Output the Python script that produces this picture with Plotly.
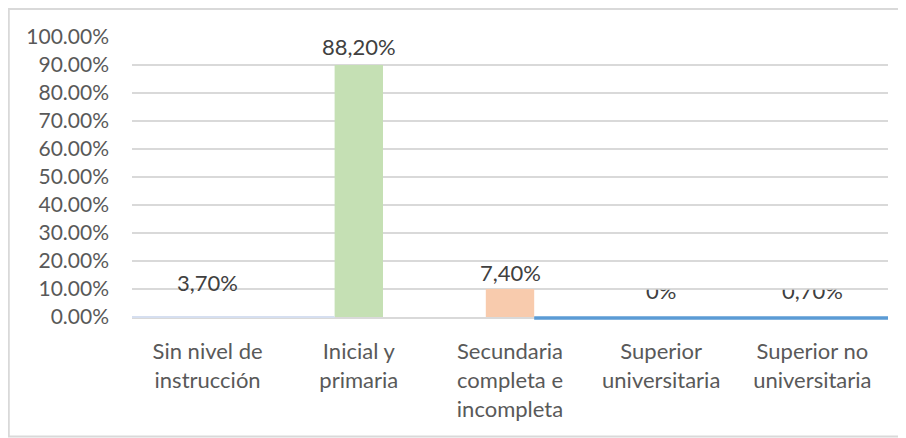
import plotly.graph_objects as go

categories = ["Sin nivel de<br>instrucción", "Inicial y<br>primaria",
              "Secundaria<br>completa e<br>incompleta", "Superior<br>universitaria",
              "Superior no<br>universitaria"]
bar_values = [0.0, 0.90, 0.10, 0.0, 0.0]
bar_labels = ["3,70%", "88,20%", "7,40%", "0%", "0,70%"]
bar_colors = ["#DAE3F3", "#C5E0B4", "#F8CBAD", "#5B9BD5", "#5B9BD5"]

FONT = "Lato"
bar_w = 0.32
n = len(categories)

fig = go.Figure(go.Bar(x=list(range(n)), y=bar_values,
                       marker=dict(color=bar_colors, line_width=0),
                       width=bar_w, hoverinfo="skip"))

# data labels for the first three bars (offsets in px above bar top)
shifts = [35, 19, 17]
for i in range(3):
    fig.add_annotation(x=i, y=bar_values[i], text=bar_labels[i], showarrow=False,
                       yanchor="middle", yshift=shifts[i],
                       font=dict(family=FONT, size=22, color="#404040"))

# last two labels sit in a thin band below the 10% gridline and get clipped there
fig.add_trace(go.Scatter(x=list(range(3, n)), y=[0.88] * (n - 3), mode="text",
                         text=bar_labels[3:], textposition="middle center",
                         textfont=dict(family=FONT, size=22, color="#404040"),
                         cliponaxis=True, xaxis="x2", yaxis="y2", hoverinfo="skip"))

# baseline strokes (domain refs so they are not clipped at the axis)
def dom(x):
    return (x + 0.5) / n

fig.add_shape(type="line", xref="x domain", yref="paper",
              x0=0, x1=dom(1 - bar_w / 2), y0=0, y1=0,
              line=dict(color="#D6DFF0", width=2), layer="above")
fig.add_shape(type="line", xref="x domain", yref="paper",
              x0=dom(2 + bar_w / 2), x1=1, y0=-0.004, y1=-0.004,
              line=dict(color="#5B9BD5", width=3.5), layer="above")

# chart frame
fig.add_shape(type="rect", xref="paper", yref="paper",
              x0=-0.163, x1=1.04, y0=-0.427, y1=1.1,
              line=dict(color="#D9D9D9", width=2), layer="below")

fig.update_layout(
    width=906, height=438,
    margin=dict(l=124, r=26, t=29, b=129, autoexpand=False),
    paper_bgcolor="white", plot_bgcolor="rgba(0,0,0,0)",
    showlegend=False,
    font=dict(family=FONT, size=21, color="#595959"),
    xaxis=dict(tickmode="array", tickvals=list(range(n)),
               ticktext=categories, range=[-0.5, n - 0.5],
               showgrid=False, showline=True, linecolor="#D9D9D9", linewidth=2,
               ticks="", ticklabelstandoff=14, automargin=False,
               tickfont=dict(size=22, color="#595959")),
    yaxis=dict(range=[0, 1.0], dtick=0.1, tickformat=".2%",
               showgrid=True, gridcolor="#D9D9D9", gridwidth=2,
               zeroline=False, showline=False, ticks="", ticklabelstandoff=22,
               automargin=False, tickfont=dict(size=21, color="#595959")),
    xaxis2=dict(domain=[0, 1], anchor="y2", range=[-0.5, n - 0.5], visible=False,
                automargin=False),
    yaxis2=dict(domain=[0, 0.097], anchor="x2", range=[0, 1], visible=False,
                automargin=False),
)

fig.write_html("out.html")
